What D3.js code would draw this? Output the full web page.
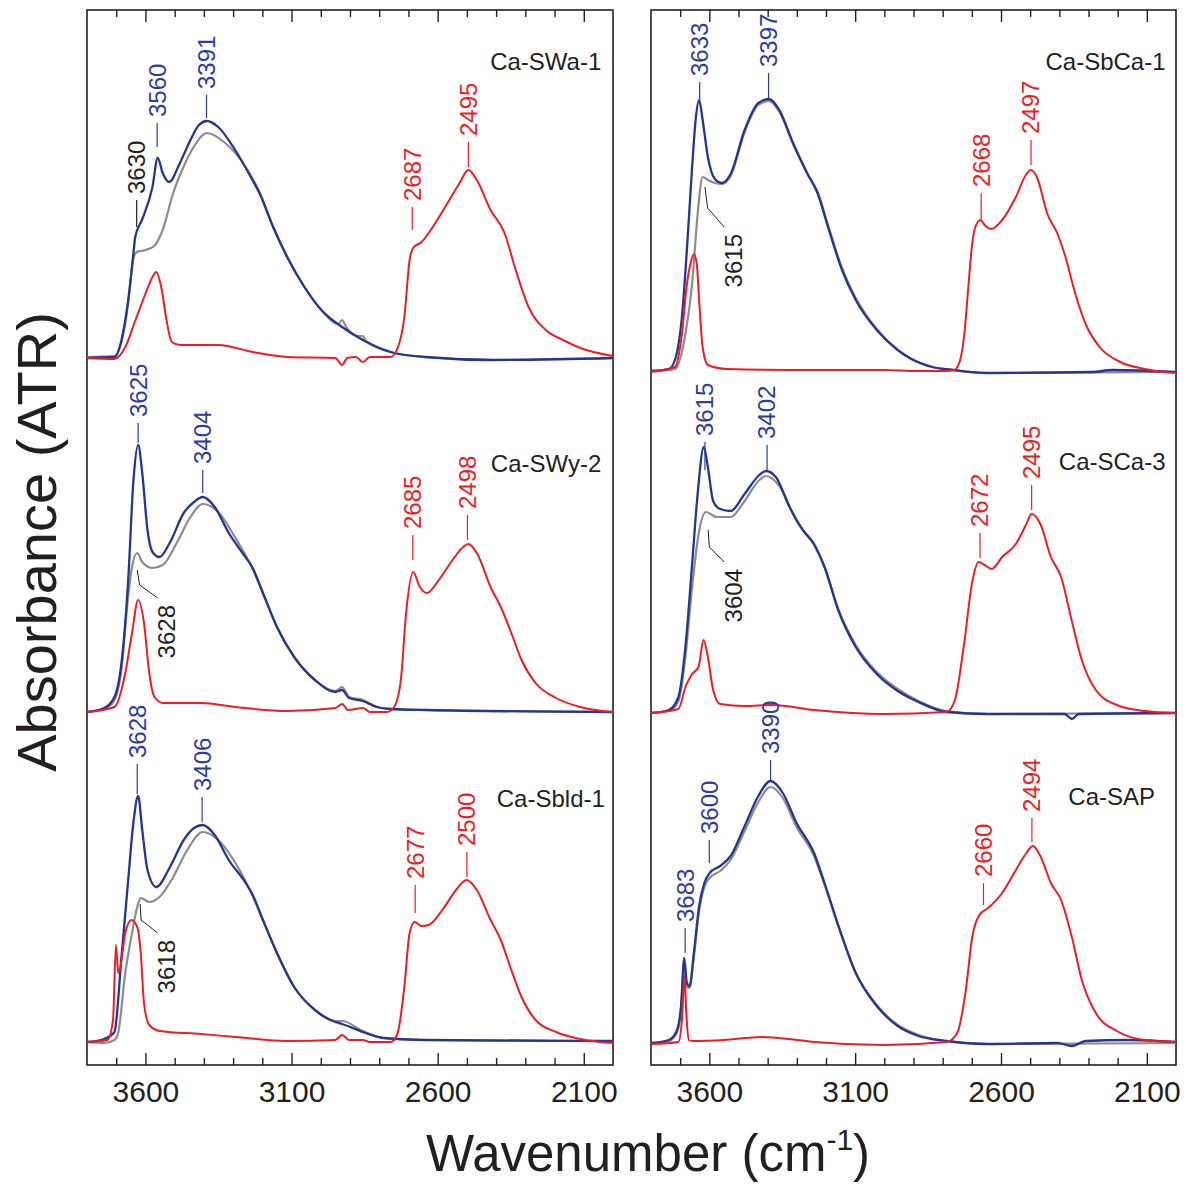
<!DOCTYPE html>
<html><head><meta charset="utf-8">
<script src="https://cdn.jsdelivr.net/npm/d3@7"></script>
<style>
body{margin:0;background:#fff}
text{font-family:"Liberation Sans",Arial,Helvetica,sans-serif}
</style></head>
<body><svg id="chart" width="1186" height="1185"></svg>
<script>
// ---------- data (wavenumber cm-1, absorbance relative to each trace's own baseline) ----------
const sampleNames = ["Ca-SWa-1","Ca-SWy-2","Ca-Sbld-1","Ca-SbCa-1","Ca-SCa-3","Ca-SAP"];
const sampleColumn = [0,0,0,1,1,1];
const stackOffsets = [7.07,3.53,0.23,6.93,3.52,0.22];
const nameWn = [2040,2040,2028,2036,2036,2072];
const nameA  = [2.88,2.40,2.35,3.02,2.43,2.38];
const majorTicks = [3600,3100,2600,2100];
const minorTicks = [3700,3500,3400,3300,3200,3000,2900,2800,2700,2500,2400,2300,2200];

const blueSeries = [
 [[3800,0],[3706,0.01],[3682,0.18],[3659,0.58],[3641,1.05],[3635,1.21],[3612,1.38],[3576,1.71],[3558,2.00],[3541,1.85],[3519,1.76],[3482,1.95],[3446,2.18],[3417,2.33],[3390,2.37],[3351,2.31],[3293,2.08],[3234,1.78],[3210,1.65],[3163,1.31],[3115,1.01],[3056,0.71],[2998,0.48],[2927,0.31],[2856,0.18],[2761,0.06],[2644,0.01],[2408,-0.02],[2000,0]],
 [[3800,0],[3741,0.04],[3706,0.15],[3682,0.49],[3659,1.32],[3641,2.32],[3625,2.67],[3611,2.39],[3593,1.82],[3576,1.60],[3552,1.55],[3517,1.69],[3469,1.99],[3434,2.10],[3404,2.15],[3363,2.05],[3315,1.79],[3268,1.59],[3233,1.44],[3198,1.19],[3150,0.85],[3091,0.55],[3020,0.32],[2950,0.20],[2927,0.22],[2903,0.14],[2856,0.11],[2808,0.05],[2761,0.03],[2640,0.02],[2000,0]],
 [[3800,0],[3741,0.03],[3706,0.10],[3682,0.85],[3659,1.62],[3641,2.20],[3625,2.46],[3611,2.12],[3593,1.72],[3563,1.55],[3516,1.75],[3469,2.02],[3434,2.14],[3404,2.17],[3363,2.07],[3315,1.82],[3257,1.59],[3233,1.47],[3198,1.22],[3150,0.89],[3091,0.55],[3020,0.32],[2950,0.20],[2927,0.18],[2856,0.10],[2785,0.04],[2640,0.02],[2000,0.01]],
 [[3800,0.01],[3739,0.03],[3718,0.12],[3694,0.55],[3677,1.22],[3659,2.05],[3647,2.52],[3635,2.72],[3623,2.52],[3605,2.15],[3581,1.93],[3557,1.89],[3527,1.98],[3479,2.42],[3432,2.69],[3396,2.73],[3360,2.62],[3313,2.29],[3265,1.99],[3229,1.79],[3193,1.45],[3145,1.02],[3098,0.72],[3026,0.42],[2954,0.22],[2907,0.13],[2835,0.05],[2764,0.02],[2645,-0.01],[2288,0],[2217,0.02],[2000,0]],
 [[3800,0],[3739,0.03],[3706,0.16],[3682,0.66],[3659,1.49],[3641,2.16],[3619,2.66],[3605,2.46],[3587,2.12],[3563,2.04],[3527,2.02],[3479,2.19],[3432,2.37],[3406,2.42],[3372,2.36],[3325,2.06],[3277,1.82],[3241,1.69],[3205,1.46],[3157,1.02],[3098,0.66],[3026,0.39],[2954,0.22],[2883,0.11],[2787,0.01],[2645,-0.01],[2382,-0.01],[2357,-0.06],[2333,-0.01],[2000,0]],
 [[3800,0],[3739,0.03],[3712,0.12],[3697,0.37],[3686,0.85],[3677,0.60],[3668,0.57],[3653,0.90],[3635,1.37],[3617,1.60],[3599,1.70],[3563,1.77],[3527,1.87],[3479,2.17],[3432,2.47],[3390,2.62],[3348,2.50],[3301,2.20],[3241,1.90],[3205,1.60],[3157,1.17],[3098,0.70],[3026,0.37],[2954,0.17],[2883,0.07],[2787,0.02],[2645,-0.01],[2406,0],[2357,-0.03],[2310,0.02],[2169,0.03],[2000,0.01]]
];

const greySeries = [
 [[3800,0.01],[3706,0.02],[3682,0.16],[3659,0.55],[3641,1.00],[3630,1.06],[3600,1.08],[3570,1.12],[3541,1.28],[3505,1.65],[3470,1.91],[3435,2.11],[3390,2.25],[3327,2.15],[3257,1.91],[3210,1.66],[3163,1.31],[3115,1.01],[3056,0.71],[2998,0.48],[2940,0.34],[2927,0.38],[2915,0.32],[2870,0.22],[2856,0.22],[2845,0.17],[2761,0.06],[2644,0.01],[2408,-0.02],[2000,0]],
 [[3800,0],[3741,0.03],[3706,0.12],[3682,0.43],[3659,1.16],[3646,1.45],[3628,1.59],[3611,1.50],[3576,1.44],[3541,1.47],[3493,1.69],[3446,1.95],[3404,2.08],[3351,2.00],[3292,1.74],[3233,1.43],[3198,1.19],[3150,0.85],[3091,0.55],[3020,0.32],[2950,0.21],[2927,0.25],[2903,0.15],[2856,0.12],[2808,0.05],[2761,0.03],[2640,0.02],[2000,0]],
 [[3800,0],[3741,-0.01],[3706,0.02],[3694,0.08],[3669,0.69],[3646,1.09],[3628,1.35],[3616,1.44],[3587,1.40],[3552,1.45],[3505,1.65],[3457,1.92],[3404,2.10],[3351,2.02],[3292,1.79],[3233,1.46],[3198,1.22],[3150,0.89],[3091,0.55],[3020,0.32],[2950,0.21],[2927,0.21],[2856,0.11],[2785,0.04],[2640,0.02],[2000,0.01]],
 [[3800,0.01],[3739,0.02],[3718,0.03],[3682,0.38],[3659,0.88],[3641,1.55],[3623,1.95],[3605,1.92],[3581,1.89],[3557,1.88],[3527,1.96],[3479,2.40],[3432,2.67],[3396,2.71],[3360,2.60],[3313,2.28],[3265,1.99],[3229,1.80],[3193,1.47],[3145,1.04],[3098,0.74],[3026,0.43],[2954,0.22],[2907,0.13],[2835,0.05],[2764,0.02],[2645,-0.01],[2000,0]],
 [[3800,0],[3739,0.02],[3706,0.12],[3682,0.56],[3659,1.26],[3635,1.82],[3611,2.01],[3575,1.96],[3527,1.96],[3479,2.12],[3432,2.32],[3406,2.37],[3360,2.27],[3301,1.92],[3241,1.68],[3205,1.46],[3157,1.03],[3098,0.68],[3026,0.41],[2954,0.24],[2883,0.12],[2787,0.02],[2645,-0.01],[2000,0]],
 [[3800,0],[3739,0.02],[3712,0.10],[3697,0.33],[3686,0.78],[3677,0.56],[3668,0.55],[3653,0.86],[3635,1.32],[3617,1.56],[3599,1.65],[3563,1.72],[3527,1.83],[3479,2.12],[3432,2.41],[3390,2.56],[3348,2.45],[3301,2.16],[3241,1.87],[3205,1.58],[3157,1.16],[3098,0.70],[3026,0.38],[2954,0.18],[2883,0.08],[2787,0.02],[2645,-0.01],[2000,0]]
];

const redSeries = [
 [[3800,0],[3706,-0.01],[3669,0.11],[3634,0.38],[3599,0.65],[3576,0.81],[3563,0.86],[3546,0.71],[3528,0.38],[3510,0.16],[3481,0.13],[3351,0.13],[3233,0.06],[3115,0.01],[2950,0],[2927,-0.07],[2910,0],[2880,0.01],[2856,-0.04],[2832,0.01],[2761,0.01],[2737,0.10],[2714,0.41],[2696,0.98],[2684,1.10],[2655,1.16],[2608,1.35],[2560,1.58],[2525,1.75],[2495,1.88],[2466,1.78],[2419,1.48],[2371,1.25],[2336,0.91],[2289,0.51],[2230,0.28],[2171,0.18],[2112,0.10],[2000,0.02]],
 [[3800,0],[3706,0.05],[3669,0.39],[3646,0.79],[3625,1.12],[3605,0.89],[3587,0.39],[3569,0.15],[3540,0.09],[3410,0.09],[3292,0.05],[3115,0.01],[2950,0.04],[2927,0.08],[2907,0.02],[2856,0.04],[2832,0],[2773,0],[2749,0.05],[2726,0.32],[2708,0.99],[2684,1.40],[2661,1.25],[2637,1.19],[2596,1.32],[2549,1.52],[2513,1.65],[2495,1.68],[2466,1.59],[2419,1.25],[2384,1.05],[2348,0.79],[2313,0.52],[2265,0.29],[2195,0.14],[2112,0.05],[2000,0]],
 [[3800,0],[3730,0.02],[3711,0.22],[3701,0.97],[3693,0.69],[3686,0.75],[3669,1.09],[3648,1.22],[3628,1.15],[3616,0.89],[3605,0.39],[3587,0.17],[3552,0.11],[3410,0.08],[3292,0.05],[3115,0.01],[2950,0.02],[2927,0.07],[2903,0.02],[2856,0.02],[2832,0],[2761,0],[2738,0.08],[2714,0.55],[2696,1.09],[2679,1.20],[2655,1.16],[2631,1.17],[2584,1.32],[2537,1.52],[2501,1.62],[2466,1.52],[2419,1.22],[2384,1.02],[2348,0.72],[2313,0.45],[2265,0.22],[2195,0.10],[2112,0.03],[2000,-0.01]],
 [[3800,0],[3718,0.05],[3694,0.38],[3677,0.88],[3665,1.08],[3653,1.18],[3643,1.08],[3635,0.72],[3623,0.25],[3605,0.07],[3539,0.03],[3241,0.02],[3003,0.02],[2883,0.01],[2787,0.01],[2760,0.02],[2740,0.12],[2725,0.40],[2712,0.85],[2700,1.25],[2688,1.45],[2670,1.52],[2656,1.47],[2632,1.43],[2596,1.52],[2549,1.75],[2513,1.98],[2498,2.02],[2477,1.95],[2441,1.58],[2406,1.38],[2382,1.18],[2345,0.78],[2310,0.48],[2262,0.25],[2191,0.10],[2108,0.03],[2000,-0.01]],
 [[3800,0],[3706,0.04],[3682,0.26],[3659,0.39],[3637,0.46],[3620,0.73],[3605,0.56],[3587,0.23],[3563,0.09],[3479,0.07],[3384,0.08],[3241,0.03],[3003,-0.01],[2787,0.01],[2758,0.13],[2728,0.66],[2698,1.32],[2677,1.51],[2656,1.48],[2632,1.44],[2596,1.56],[2549,1.69],[2513,1.89],[2495,1.99],[2465,1.89],[2429,1.56],[2394,1.36],[2358,0.93],[2323,0.53],[2275,0.23],[2203,0.08],[2108,0.02],[2000,0]],
 [[3800,-0.01],[3706,0.01],[3694,0.23],[3685,0.67],[3679,0.30],[3670,0.03],[3658,0.02],[3550,0.03],[3420,0.06],[3300,0.03],[3241,0.01],[3003,-0.02],[2787,0.01],[2750,0.10],[2722,0.50],[2698,1.07],[2674,1.28],[2644,1.35],[2596,1.50],[2549,1.73],[2513,1.90],[2491,1.97],[2465,1.87],[2429,1.60],[2394,1.43],[2358,1.07],[2323,0.63],[2275,0.30],[2203,0.12],[2108,0.03],[2000,0.01]]
];

// peak annotations: s = b(blue) r(red) k(black); a0/a1 = tick line bottom/top; pts = leader line
const peakLabels = [
 [{t:"3630",s:"k",a0:1.31,a1:1.58},{t:"3560",s:"b",a0:2.11,a1:2.35},{t:"3391",s:"b",a0:2.40,a1:2.63},{t:"2687",s:"r",a0:1.28,a1:1.51},{t:"2495",s:"r",a0:1.91,a1:2.16}],
 [{t:"3625",s:"b",a0:2.69,a1:2.89},{t:"3404",s:"b",a0:2.19,a1:2.42},{t:"2685",s:"r",a0:1.52,a1:1.77},{t:"2498",s:"r",a0:1.72,a1:1.97},{t:"3628",s:"k",pts:[[3628,1.42],[3620,1.27],[3558,1.14]]}],
 [{t:"3628",s:"b",a0:2.48,a1:2.78},{t:"3406",s:"b",a0:2.20,a1:2.45},{t:"2677",s:"r",a0:1.29,a1:1.57},{t:"2500",s:"r",a0:1.65,a1:1.90},{t:"3618",s:"k",pts:[[3618,1.38],[3615,1.22],[3558,1.09]]}],
 [{t:"3633",s:"b",a0:2.72,a1:2.90},{t:"3397",s:"b",a0:2.74,a1:2.99},{t:"2668",s:"r",a0:1.52,a1:1.79},{t:"2497",s:"r",a0:2.07,a1:2.32},{t:"3615",s:"k",pts:[[3615,1.85],[3606,1.64],[3549,1.45]]}],
 [{t:"3615",s:"b",a0:2.43,a1:2.71},{t:"3402",s:"b",a0:2.43,a1:2.68},{t:"2672",s:"r",a0:1.55,a1:1.80},{t:"2495",s:"r",a0:2.03,a1:2.28},{t:"3604",s:"k",pts:[[3604,1.83],[3600,1.66],[3549,1.51]]}],
 [{t:"3683",s:"b",a0:0.90,a1:1.15},{t:"3600",s:"b",a0:1.80,a1:2.03},{t:"3390",s:"b",a0:2.63,a1:2.83},{t:"2660",s:"r",a0:1.38,a1:1.60},{t:"2494",s:"r",a0:2.01,a1:2.25}]
];

// ---------- drawing ----------
const svg = d3.select("#chart");
const INK = "#231f20", BLUE = "#263592", RED = "#ee1c24", GREY = "#8c8c8c", LBLUE="#2e3aa0";
const colorOf = {b:LBLUE, r:RED, k:INK};
const panelX = [[87,613],[651,1176]];
const frameTop = 10, frameBottom = 1065;
const y = d3.scaleLinear().domain([0,10.55]).range([frameBottom, frameTop]);
const xs = panelX.map(r => d3.scaleLinear().domain([3800,2000]).range(r));

// axes & frames
xs.forEach((x,i) => {
  const g = svg.append("g");
  const mk = (axis, ty) => { const a = g.append("g").attr("transform",`translate(0,${ty})`).call(axis);
     a.select(".domain").remove(); a.selectAll("line").attr("stroke",INK).attr("stroke-width",1.4); return a; };
  mk(d3.axisTop(x).tickValues(majorTicks).tickSize(12).tickFormat(""), frameBottom);
  mk(d3.axisTop(x).tickValues(minorTicks).tickSize(7).tickFormat(""), frameBottom);
  mk(d3.axisBottom(x).tickValues(majorTicks).tickSize(12).tickFormat(""), frameTop);
  mk(d3.axisBottom(x).tickValues(minorTicks).tickSize(7).tickFormat(""), frameTop);
  const lab = g.append("g").attr("transform",`translate(0,${frameBottom})`)
     .call(d3.axisBottom(x).tickValues(majorTicks).tickSize(0).tickPadding(16).tickFormat(d3.format("d")));
  lab.select(".domain").remove();
  lab.selectAll("text").attr("font-size",30).attr("fill",INK).attr("font-family",'"Liberation Sans",Arial,sans-serif');
  g.append("rect").attr("x",x.range()[0]).attr("y",frameTop).attr("width",x.range()[1]-x.range()[0])
    .attr("height",frameBottom-frameTop).attr("fill","none").attr("stroke",INK).attr("stroke-width",1.6);
});

// spectra
sampleNames.forEach((name,k) => {
  const x = xs[sampleColumn[k]], off = stackOffsets[k];
  const line = d3.line().x(d=>x(d[0])).y(d=>y(off+d[1])).curve(d3.curveMonotoneX);
  const g = svg.append("g");
  const sorted = arr => arr.slice().sort((a,b)=>b[0]-a[0]);
  g.append("path").attr("d",line(sorted(greySeries[k]))).attr("fill","none").attr("stroke",GREY).attr("stroke-width",2.2).attr("stroke-linejoin","round");
  g.append("path").attr("d",line(sorted(blueSeries[k]))).attr("fill","none").attr("stroke",BLUE).attr("stroke-width",2.3).attr("stroke-linejoin","round");
  g.append("path").attr("d",line(sorted(redSeries[k]))).attr("fill","none").attr("stroke",RED).attr("stroke-width",2).attr("stroke-linejoin","round");

  g.append("text").attr("x",x(nameWn[k])).attr("y",y(off+nameA[k])).attr("text-anchor","end")
    .attr("font-size",24).attr("fill",INK).text(name);

  peakLabels[k].forEach(p => {
    const col = colorOf[p.s];
    if (p.pts) {
      const pl = d3.line().x(d=>x(d[0])).y(d=>y(off+d[1]));
      g.append("path").attr("d",pl(p.pts)).attr("fill","none").attr("stroke",INK).attr("stroke-width",1);
      const last = p.pts[p.pts.length-1];
      g.append("text").attr("transform",`translate(${x(last[0])+9},${y(off+last[1])+7}) rotate(-90)`)
        .attr("text-anchor","end").attr("dy","0.35em").attr("font-size",24).attr("fill",col).text(p.t);
    } else {
      const wx = x(+p.t);
      g.append("line").attr("x1",wx).attr("x2",wx).attr("y1",y(off+p.a0)).attr("y2",y(off+p.a1))
        .attr("stroke",col).attr("stroke-width",1.2);
      g.append("text").attr("transform",`translate(${wx},${y(off+p.a1)-6}) rotate(-90)`)
        .attr("text-anchor","start").attr("dy","0.35em").attr("font-size",24).attr("fill",col).text(p.t);
    }
  });
});

// axis titles
svg.append("text").attr("transform","translate(56,542) rotate(-90)").attr("text-anchor","middle")
  .attr("font-size",56).attr("fill",INK).text("Absorbance (ATR)");
const xt = svg.append("text").attr("x",648).attr("y",1171).attr("text-anchor","middle").attr("font-size",51).attr("fill",INK);
xt.append("tspan").text("Wavenumber (cm");
xt.append("tspan").attr("dy",-21).attr("font-size",30).text("-1");
xt.append("tspan").attr("dy",21).text(")");
</script>
</body></html>
